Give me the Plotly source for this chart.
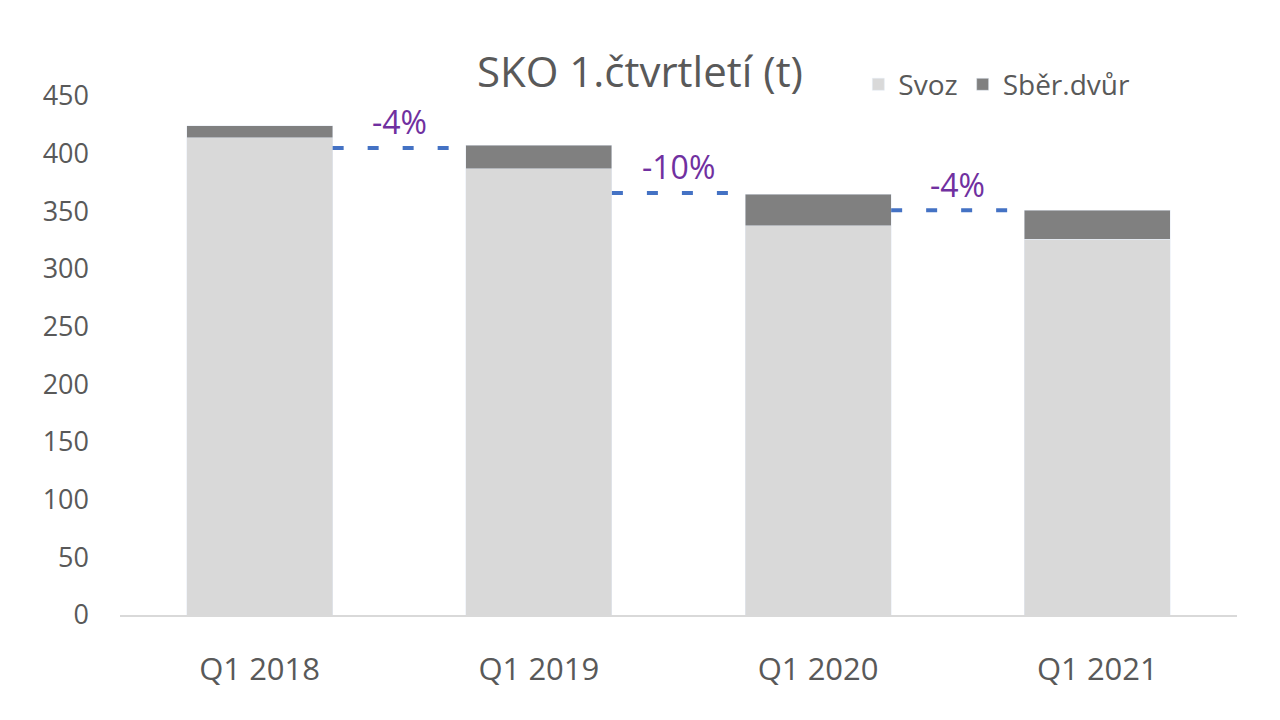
import plotly.graph_objects as go

categories = ["Q1 2018", "Q1 2019", "Q1 2020", "Q1 2021"]
svoz = [414, 387, 337.5, 326]
sber_dvur = [10, 20.5, 27.5, 25]
line_levels = [405, 366, 351]
change_labels = ["-4%", "-10%", "-4%"]

FONT = "Open Sans"
TXT = "#595959"
BAR_W = 0.523

x_pos = list(range(len(categories)))

fig = go.Figure()
fig.add_trace(go.Bar(x=x_pos, y=svoz, name="Svoz", marker_color="#D9D9D9",
                     width=BAR_W, hoverinfo="skip"))
fig.add_trace(go.Bar(x=x_pos, y=sber_dvur, name="Sběr.dvůr", marker_color="#808080",
                     width=BAR_W, hoverinfo="skip"))

for i, lvl in enumerate(line_levels):
    fig.add_trace(go.Scatter(
        x=[i + BAR_W / 2, i + 1 - BAR_W / 2], y=[lvl, lvl], mode="lines",
        line=dict(color="#4472C4", width=4, dash="11px,24px"),
        showlegend=False, hoverinfo="skip"))
    fig.add_annotation(x=i + 0.5, y=lvl, text=change_labels[i], showarrow=False,
                       yshift=26, font=dict(family=FONT, size=32, color="#7030A0"))

fig.update_layout(
    barmode="stack",
    width=1280, height=720,
    paper_bgcolor="white", plot_bgcolor="white",
    margin=dict(l=112, r=51, t=88, b=113),
    title=dict(text="SKO 1.čtvrtletí (t)", x=0.5 - 8 / 1280, xref="container", xanchor="center",
               y=1 - 64 / 720, yref="container", yanchor="middle",
               font=dict(family=FONT, size=42, color=TXT)),
    legend=dict(orientation="h", x=0.661, xanchor="left", y=1.022, yanchor="middle",
                font=dict(family=FONT, size=28, color=TXT), bgcolor="rgba(0,0,0,0)",
                itemwidth=30, traceorder="normal"),
    font=dict(family=FONT, color=TXT),
    xaxis=dict(range=[-0.5, 3.5], tickvals=x_pos, ticktext=categories,
               showgrid=False, zeroline=False, showline=True, linecolor="#D9D9D9",
               linewidth=1.5, ticks="", tickfont=dict(family=FONT, size=31, color=TXT),
               ticklabelstandoff=26),
    yaxis=dict(range=[0, 450], dtick=50, showgrid=False, zeroline=False,
               showline=False, ticks="", tickfont=dict(family=FONT, size=27, color=TXT),
               ticklabelstandoff=30),
)

fig.write_html("out.html")
